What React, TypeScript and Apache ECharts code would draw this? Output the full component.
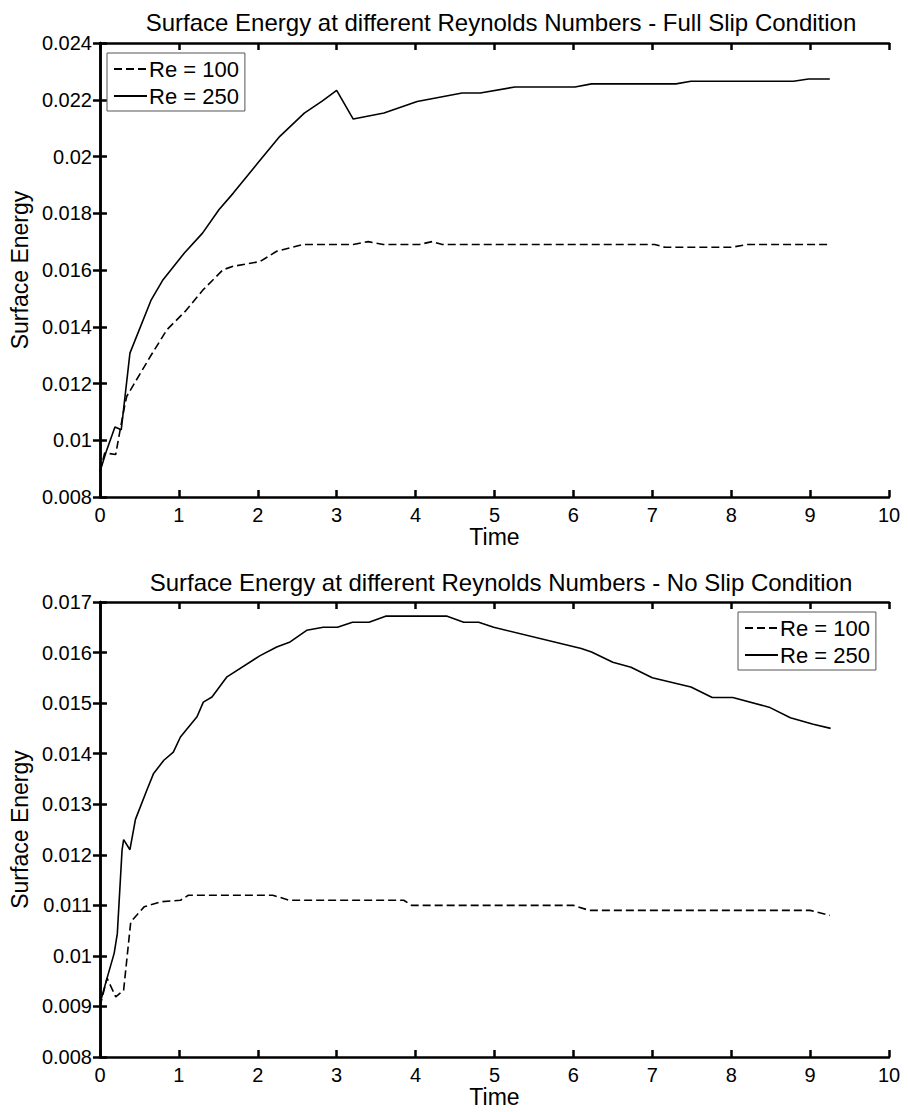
import React, { useEffect, useRef } from "react";
import * as echarts from "echarts";

// ---- Data ----
const topTime250 = [0, 0.08, 0.19, 0.27, 0.38, 0.65, 0.8, 1.07, 1.3, 1.51, 1.69, 2.0, 2.28, 2.59, 2.82, 3.0, 3.21, 3.6, 4.02, 4.59, 4.82, 5.26, 6.02, 6.23, 7.3, 7.49, 8.79, 8.98, 9.25];
const topEnergy250 = [0.0089, 0.0096, 0.01047, 0.01037, 0.01307, 0.01495, 0.01566, 0.0166, 0.0173, 0.01813, 0.01871, 0.01977, 0.02071, 0.02153, 0.02196, 0.02233, 0.02132, 0.02153, 0.02194, 0.02224, 0.02224, 0.02245, 0.02245, 0.02256, 0.02256, 0.02265, 0.02265, 0.02273, 0.02273];

const topTime100 = [0, 0.06, 0.2, 0.26, 0.32, 0.34, 0.64, 0.85, 1.08, 1.31, 1.56, 1.69, 2.03, 2.24, 2.58, 3.21, 3.4, 3.59, 4.05, 4.21, 4.34, 7.03, 7.16, 8.0, 8.21, 9.25];
const topEnergy100 = [0.0089, 0.00955, 0.0095, 0.01043, 0.01131, 0.01155, 0.01296, 0.0139, 0.01454, 0.01531, 0.01601, 0.01613, 0.0163, 0.01666, 0.0169, 0.0169, 0.017, 0.0169, 0.0169, 0.017, 0.0169, 0.0169, 0.0168, 0.0168, 0.0169, 0.0169];

const botTime250 = [0, 0.09, 0.18, 0.22, 0.28, 0.3, 0.38, 0.45, 0.6, 0.68, 0.81, 0.93, 1.02, 1.23, 1.31, 1.42, 1.61, 2.03, 2.24, 2.41, 2.62, 2.83, 3.01, 3.2, 3.41, 3.62, 4.4, 4.61, 4.8, 4.99, 6.1, 6.23, 6.5, 6.73, 7.0, 7.49, 7.76, 8.02, 8.48, 8.75, 9.04, 9.26];
const botEnergy250 = [0.00906, 0.00956, 0.01005, 0.01044, 0.01209, 0.0123, 0.0121, 0.0127, 0.0133, 0.01361, 0.01387, 0.01403, 0.01433, 0.01473, 0.01502, 0.01512, 0.01552, 0.01594, 0.01611, 0.01621, 0.01644, 0.0165, 0.0165, 0.0166, 0.0166, 0.01672, 0.01672, 0.0166, 0.0166, 0.0165, 0.01608, 0.01601, 0.01581, 0.01571, 0.0155, 0.01532, 0.01511, 0.01511, 0.01492, 0.01471, 0.01458, 0.0145];

const botTime100 = [0, 0.09, 0.2, 0.3, 0.39, 0.56, 0.77, 1.02, 1.12, 2.19, 2.4, 3.85, 3.95, 6.0, 6.2, 9.0, 9.25];
const botEnergy100 = [0.009, 0.00956, 0.00919, 0.00932, 0.01067, 0.01097, 0.01107, 0.0111, 0.0112, 0.0112, 0.0111, 0.0111, 0.011, 0.011, 0.0109, 0.0109, 0.0108];

const titles = [
  "Surface Energy at different Reynolds Numbers - Full Slip Condition",
  "Surface Energy at different Reynolds Numbers - No Slip Condition",
];
const seriesNames = ["Re = 100", "Re = 250"];
const xLabel = "Time";
const yLabel = "Surface Energy";

const FONT = "'Liberation Sans', Arial, sans-serif";

const pairs = (t: number[], v: number[]) => t.map((x, i) => [x, v[i]]);
const fmtY = (v: number) => String(Number(v.toFixed(3)));

export default function App() {
  const ref = useRef<HTMLDivElement>(null);

  useEffect(() => {
    document.body.style.margin = "0";
    if (!ref.current) return;
    const chart = echarts.init(ref.current, undefined, { renderer: "svg" });

    const grids = [
      { left: 96, top: 43, width: 793, height: 454 },
      { left: 96, top: 602, width: 793, height: 455 },
    ];
    const yRanges = [
      { min: 0.008, max: 0.024, interval: 0.002 },
      { min: 0.008, max: 0.017, interval: 0.001 },
    ];

    const axisLine = { show: true, lineStyle: { color: "#000", width: 2.5 } };
    const tick = { show: true, inside: true, length: 7, lineStyle: { color: "#000", width: 2.5 } };
    const label = { color: "#000", fontSize: 20, fontFamily: FONT };
    const nameStyle = { color: "#000", fontSize: 23, fontFamily: FONT };

    const xAxis: any[] = [];
    const yAxis: any[] = [];
    grids.forEach((_, g) => {
      xAxis.push({
        type: "value", gridIndex: g, min: 0, max: 10, interval: 1, position: "bottom",
        axisLine, axisTick: tick, splitLine: { show: false },
        axisLabel: { ...label, margin: 8 },
        name: xLabel, nameLocation: "middle", nameGap: 28, nameTextStyle: nameStyle,
      });
      xAxis.push({
        type: "value", gridIndex: g, min: 0, max: 10, interval: 1, position: "top",
        axisLine, axisTick: tick, splitLine: { show: false }, axisLabel: { show: false },
      });
      yAxis.push({
        type: "value", gridIndex: g, ...yRanges[g], position: "left",
        axisLine, axisTick: tick, splitLine: { show: false },
        axisLabel: { ...label, margin: 8, formatter: fmtY },
        name: yLabel, nameLocation: "middle", nameGap: 60, nameTextStyle: nameStyle,
      });
      yAxis.push({
        type: "value", gridIndex: g, ...yRanges[g], position: "right",
        axisLine, axisTick: tick, splitLine: { show: false }, axisLabel: { show: false },
      });
    });

    const mk = (name: string, data: number[][], g: number, dashed: boolean) => ({
      type: "line", name, data, xAxisIndex: g * 2, yAxisIndex: g * 2,
      showSymbol: false, symbol: "none",
      lineStyle: { color: "#000", width: 1.6, type: dashed ? [8, 4] : "solid" },
      itemStyle: { color: "#000" },
    });

    const legendBase = {
      orient: "vertical", padding: [5, 6, 4, 6], itemWidth: 33, itemHeight: 14, itemGap: 5,
      borderColor: "#555", borderWidth: 1, backgroundColor: "#fff", borderRadius: 0,
      itemStyle: { opacity: 0 },
      textStyle: { color: "#000", fontSize: 22, fontFamily: FONT, padding: [0, 0, 0, -3] },
      data: seriesNames, selectedMode: false,
    };

    chart.setOption({
      animation: false,
      backgroundColor: "#fff",
      title: titles.map((t, i) => ({
        text: t, left: 496, top: i === 0 ? 5 : 565, textAlign: "center",
        textStyle: { color: "#000", fontSize: 24, fontWeight: "normal", fontFamily: FONT },
      })),
      legend: [
        { ...legendBase, left: 107, top: 53 },
        { ...legendBase, left: 738, top: 612 },
      ],
      grid: grids,
      xAxis,
      yAxis,
      series: [
        mk(seriesNames[0], pairs(topTime100, topEnergy100), 0, true),
        mk(seriesNames[1], pairs(topTime250, topEnergy250), 0, false),
        mk(seriesNames[0], pairs(botTime100, botEnergy100), 1, true),
        mk(seriesNames[1], pairs(botTime250, botEnergy250), 1, false),
      ],
    });

    return () => chart.dispose();
  }, []);

  return <div ref={ref} style={{ width: 908, height: 1112 }} />;
}
